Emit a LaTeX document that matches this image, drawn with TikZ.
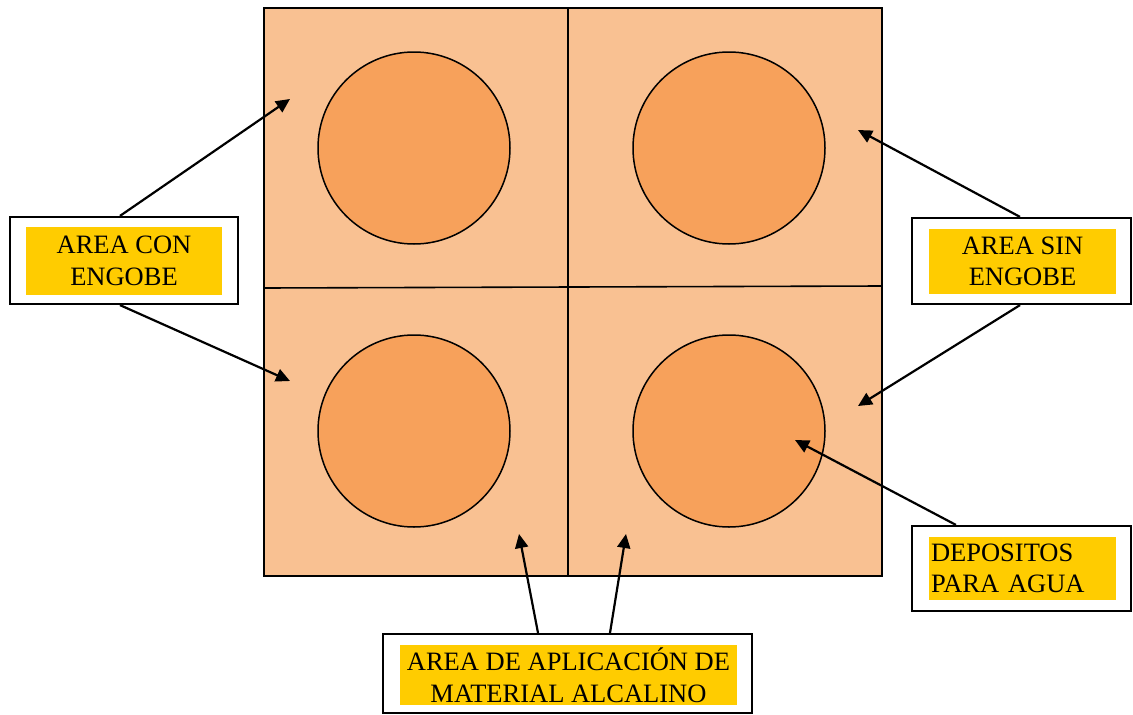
\documentclass[tikz,border=0pt]{standalone}
\usepackage{fontspec}
\setmainfont{Liberation Serif}
\usetikzlibrary{arrows.meta,calc}
\definecolor{tile}{RGB}{249,193,146}
\definecolor{well}{RGB}{247,161,91}
\definecolor{tag}{RGB}{255,204,0}
\begin{document}
\begin{tikzpicture}[x=1pt,y=-1pt,
  wellc/.style={circle,draw,line width=1.5pt,fill=well,minimum size=192pt,inner sep=0pt},
  frame/.style={draw,line width=2.2pt,fill=white,inner sep=0pt},
  tagbox/.style={fill=tag,inner sep=0pt,font=\fontsize{26.5}{31.5}\selectfont},
  ptr/.style={line width=2.2pt,-{Triangle[length=14pt,width=13pt]}}]
\useasboundingbox (0,0) rectangle (1133,715);
% slab split into four tiles
\fill[tile] (264,8) rectangle (882,576);
\draw[line width=1.6pt] (264,8) rectangle (882,576);
\draw[line width=1.6pt] (568,8) -- (568,576);
\draw[line width=1.6pt] (264,288) -- (882,286);
% water wells
\node[wellc] (w1) at (414,148) {};
\node[wellc] (w2) at (729,148) {};
\node[wellc] (w3) at (414,431) {};
\node[wellc] (w4) at (729,431) {};
% label boxes
\node[frame,minimum width=228pt,minimum height=87pt] (con) at (124,260.5) {};
\node[tagbox,minimum width=196pt,minimum height=68pt,align=center] (conT) at (124,261) {AREA CON\\ENGOBE};
\node[frame,minimum width=219pt,minimum height=86pt] (sin) at (1021.5,261) {};
\node[tagbox,minimum width=187pt,minimum height=65pt,align=center] (sinT) at (1022.5,261.5) {AREA SIN\\ENGOBE};
\node[frame,minimum width=219pt,minimum height=85pt] (dep) at (1021.5,568.5) {};
\node[tagbox,minimum width=187pt,minimum height=63pt,text width=183pt,align=left] (depT) at (1022.5,568.5) {DEPOSITOS\\PARA AGUA};
\node[frame,minimum width=369pt,minimum height=79pt] (alc) at (567.5,673.5) {};
\node[tagbox,minimum width=337pt,minimum height=60pt,align=center] (alcT) at (568.5,675) {AREA DE APLICACIÓN DE\\MATERIAL ALCALINO};
% arrow targets
\coordinate (t1) at (290,99);
\coordinate (t2) at (290,381);
\coordinate (t3) at (858,130);
\coordinate (t4) at (858,406);
\coordinate (t5) at (795,440);
\coordinate (t6) at (519,534);
\coordinate (t7) at (626,534);
% pointers
\draw[ptr] ($(con.north)+(-4,0)$) -- (t1);
\draw[ptr] ($(con.south)+(-4,0)$) -- (t2);
\draw[ptr] ($(sin.north)+(-1.5,0)$) -- (t3);
\draw[ptr] ($(sin.south)+(-1.5,0)$) -- (t4);
\draw[ptr] ($(dep.north west)+(45,0)$) -- (t5);
\draw[ptr] ($(alc.north)+(-29.5,0)$) -- (t6);
\draw[ptr] ($(alc.north)+(42.5,0)$) -- (t7);
\end{tikzpicture}
\end{document}
